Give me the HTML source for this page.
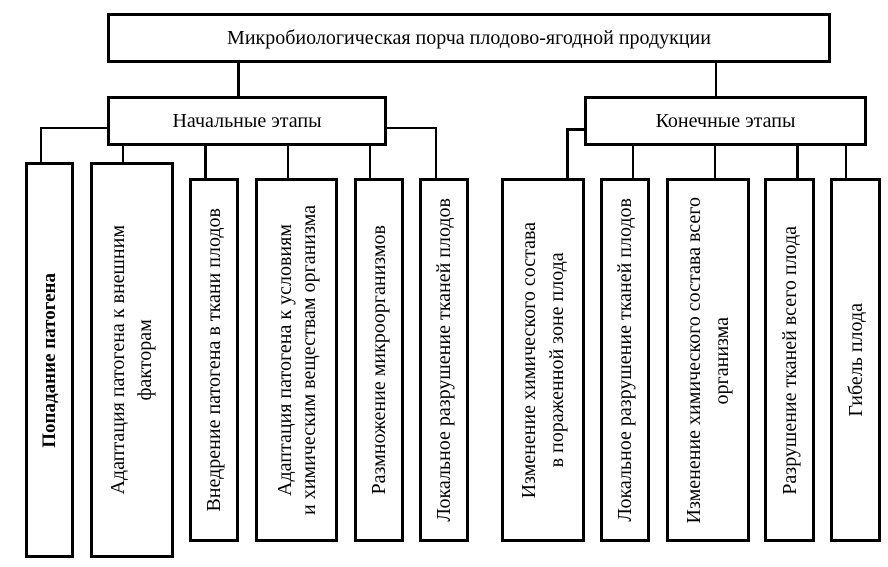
<!DOCTYPE html>
<html><head><meta charset="utf-8"><style>
body{margin:0;width:888px;height:567px;background:#fff;position:relative;overflow:hidden;font-family:"Liberation Serif",serif;color:#000}
.b{position:absolute;border:3px solid #000;box-sizing:border-box;display:flex;align-items:center;justify-content:center;text-align:center;font-size:20px;white-space:nowrap}
.v{writing-mode:vertical-rl;transform:rotate(180deg);line-height:26px}
.l{position:absolute;background:#000}
</style></head><body>
<div class="b" style="left:107px;top:13px;width:724px;height:50px">Микробиологическая порча плодово-ягодной продукции</div>
<div class="b" style="left:107px;top:96px;width:280px;height:50px">Начальные этапы</div>
<div class="b" style="left:584px;top:96px;width:283px;height:50px">Конечные этапы</div>
<div class="l" style="left:237px;top:62px;width:3px;height:35px"></div>
<div class="l" style="left:715px;top:62px;width:2px;height:35px"></div>
<div class="l" style="left:40px;top:127px;width:68px;height:2px"></div>
<div class="l" style="left:40px;top:127px;width:2px;height:36px"></div>
<div class="l" style="left:122px;top:145px;width:2px;height:18px"></div>
<div class="l" style="left:204px;top:145px;width:3px;height:34px"></div>
<div class="l" style="left:287px;top:145px;width:2px;height:34px"></div>
<div class="l" style="left:369px;top:145px;width:2px;height:34px"></div>
<div class="l" style="left:386px;top:127px;width:51px;height:2px"></div>
<div class="l" style="left:435px;top:127px;width:2px;height:52px"></div>
<div class="l" style="left:566px;top:128px;width:19px;height:3px"></div>
<div class="l" style="left:566px;top:128px;width:3px;height:51px"></div>
<div class="l" style="left:632px;top:145px;width:2px;height:34px"></div>
<div class="l" style="left:714px;top:145px;width:2px;height:34px"></div>
<div class="l" style="left:796px;top:145px;width:3px;height:34px"></div>
<div class="l" style="left:845px;top:145px;width:2px;height:34px"></div>
<div class="b" style="left:25px;top:162px;width:49px;height:396px"><div class="v" style="font-size:19px;font-weight:bold">Попадание патогена</div></div>
<div class="b" style="left:90px;top:162px;width:84px;height:396px"><div class="v" style="line-height:27px">Адаптация патогена к внешним<br>факторам</div></div>
<div class="b" style="left:189px;top:178px;width:50px;height:364px"><div class="v">Внедрение патогена в ткани плодов</div></div>
<div class="b" style="left:255px;top:178px;width:83px;height:364px"><div class="v" style="line-height:24px">Адаптация патогена к условиям<br>и химическим веществам организма</div></div>
<div class="b" style="left:354px;top:178px;width:50px;height:364px"><div class="v">Размножение микроорганизмов</div></div>
<div class="b" style="left:419px;top:178px;width:50px;height:364px"><div class="v">Локальное разрушение тканей плодов</div></div>
<div class="b" style="left:501px;top:178px;width:84px;height:364px"><div class="v" style="line-height:28px">Изменение химического состава<br>в пораженной зоне плода</div></div>
<div class="b" style="left:600px;top:178px;width:50px;height:364px"><div class="v">Локальное разрушение тканей плодов</div></div>
<div class="b" style="left:666px;top:178px;width:84px;height:364px"><div class="v" style="line-height:28px">Изменение химического состава всего<br>организма</div></div>
<div class="b" style="left:764px;top:178px;width:51px;height:364px"><div class="v">Разрушение тканей всего плода</div></div>
<div class="b" style="left:830px;top:178px;width:51px;height:364px"><div class="v">Гибель плода</div></div>
</body></html>
